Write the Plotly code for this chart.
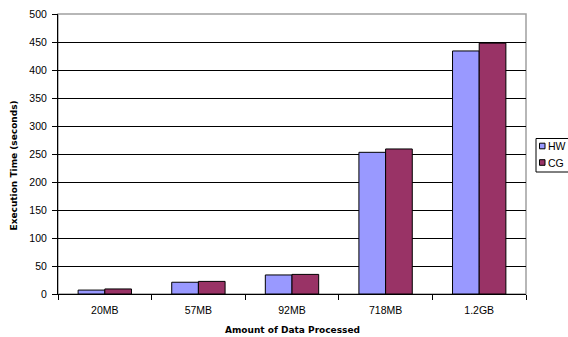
import plotly.graph_objects as go

# Execution time by data size for two implementations
categories = ["20MB", "57MB", "92MB", "718MB", "1.2GB"]
hw_times = [7, 21, 34, 253, 434]
cg_times = [9, 22.5, 35, 259, 448]
y_ticks = [0, 50, 100, 150, 200, 250, 300, 350, 400, 450, 500]
series_names = ["HW", "CG"]
series_colors = ["#9999FF", "#993366"]

W, H = 568, 337
L, R, T, B = 58, 42, 14, 43
plot_w = W - L - R
plot_h = H - T - B

tick_font = "Liberation Sans, Arial, sans-serif"
title_font = "DejaVu Sans, Verdana, sans-serif"


def px_x(px):
    """Horizontal pixel position -> paper coordinate."""
    return (px - L) / plot_w


def px_y(py):
    """Vertical pixel position (from top) -> paper coordinate."""
    return (H - B - py) / plot_h


fig = go.Figure()
for name, vals, col in zip(series_names, [hw_times, cg_times], series_colors):
    fig.add_trace(go.Bar(
        name=name, x=categories, y=vals,
        marker=dict(color=col, line=dict(color="#000000", width=1)),
    ))

shapes = [
    # grey plot-area frame
    dict(type="rect", xref="paper", yref="paper", x0=0, y0=0, x1=1, y1=1,
         line=dict(color="#A0A0A0", width=1.5), layer="below"),
    # legend box (runs past the right edge of the page)
    dict(type="rect", xref="paper", yref="paper",
         x0=px_x(536), x1=px_x(590), y0=px_y(172), y1=px_y(138.5),
         line=dict(color="#000000", width=1), fillcolor="white", layer="above"),
]
annotations = []
for i, (name, col) in enumerate(zip(series_names, series_colors)):
    cy = 146 + 16.5 * i
    shapes.append(dict(
        type="rect", xref="paper", yref="paper",
        x0=px_x(539.5), x1=px_x(545), y0=px_y(cy + 2.8), y1=px_y(cy - 2.8),
        fillcolor=col, line=dict(color="#000000", width=1), layer="above",
    ))
    annotations.append(dict(
        text=name, xref="paper", yref="paper", x=px_x(546), y=px_y(cy),
        xanchor="left", yanchor="middle", showarrow=False,
        font=dict(family=tick_font, size=10.5, color="#000000"),
    ))

# axis titles
annotations.append(dict(
    text="<b>Amount of Data Processed</b>", xref="paper", yref="paper",
    x=0.5, y=px_y(329.5), xanchor="center", yanchor="middle", showarrow=False,
    font=dict(family=title_font, size=9, color="#000000"),
))
annotations.append(dict(
    text="<b>Execution Time (seconds)</b>", xref="paper", yref="paper",
    x=px_x(13.5), y=px_y(166), xanchor="center", yanchor="middle", showarrow=False,
    textangle=-90,
    font=dict(family=title_font, size=9, color="#000000"),
))

fig.update_layout(
    width=W, height=H,
    margin=dict(l=L, r=R, t=T, b=B, autoexpand=False),
    paper_bgcolor="white", plot_bgcolor="white",
    barmode="group", bargap=0.43, bargroupgap=0,
    font=dict(family=tick_font, size=10.5, color="#000000"),
    showlegend=False,
    shapes=shapes,
    annotations=annotations,
    xaxis=dict(
        type="category",
        showline=True, linecolor="#000000", linewidth=1,
        ticks="outside", ticklen=5, tickcolor="#000000", tickson="boundaries",
        ticklabelstandoff=6,
        showgrid=False,
        tickfont=dict(size=10.5),
    ),
    yaxis=dict(
        range=[0, 500], tickvals=y_ticks,
        showline=True, linecolor="#000000", linewidth=1,
        ticks="outside", ticklen=5, tickcolor="#000000",
        ticklabelstandoff=3,
        showgrid=True, gridcolor="#000000", gridwidth=1,
        zeroline=False,
        tickfont=dict(size=10.5),
    ),
)

fig.write_html("out.html")
